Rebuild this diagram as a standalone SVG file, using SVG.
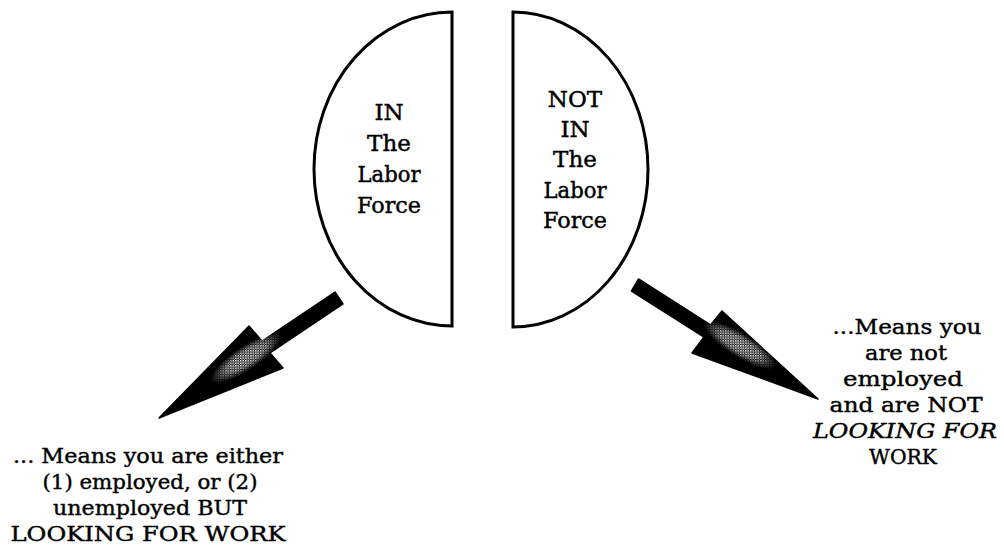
<svg xmlns="http://www.w3.org/2000/svg" width="1004" height="553" viewBox="0 0 1004 553">
<style>
.half{fill:#fff;stroke:#000;stroke-width:3;stroke-linejoin:miter}
.lbl{font-family:"DejaVu Serif","Liberation Serif",serif;font-size:23px;fill:#000;stroke:#000;stroke-width:0.45;text-anchor:middle}
.txt{font-family:"DejaVu Serif","Liberation Serif",serif;font-size:20px;fill:#000;stroke:#000;stroke-width:0.4;text-anchor:middle}
.it{font-style:italic}
.arrow{fill:#000;stroke:#000;stroke-width:1.5;stroke-linejoin:round}
</style>
<defs>
<pattern id="dots" width="2.5" height="2.5" patternUnits="userSpaceOnUse">
<rect x="0" y="0" width="1.5" height="1.5" fill="#fff"/>
<rect x="1.3" y="1.3" width="1" height="1" fill="#eee"/>
</pattern>
<radialGradient id="fade" cx="0.5" cy="0.5" r="0.5">
<stop offset="0" stop-color="#fff" stop-opacity="1"/>
<stop offset="0.55" stop-color="#fff" stop-opacity="0.85"/>
<stop offset="1" stop-color="#fff" stop-opacity="0"/>
</radialGradient>
<mask id="m1" maskUnits="userSpaceOnUse" x="0" y="0" width="1004" height="553">
<ellipse cx="246" cy="358" rx="42" ry="12" fill="url(#fade)" transform="rotate(-33.7 246 358)"/>
</mask>
<mask id="m2" maskUnits="userSpaceOnUse" x="0" y="0" width="1004" height="553">
<ellipse cx="740" cy="345" rx="42" ry="12" fill="url(#fade)" transform="rotate(31.8 740 345)"/>
</mask>
</defs>
<g id="node-in">
<path class="half" d="M452,12 A138,157 0 0 0 452,326 Z"/>
<text class="lbl" x="389" y="120">IN</text>
<text class="lbl" x="389" y="151">The</text>
<text class="lbl" x="389" y="182" textLength="63" lengthAdjust="spacingAndGlyphs">Labor</text>
<text class="lbl" x="389" y="213" textLength="64" lengthAdjust="spacingAndGlyphs">Force</text>
</g>
<g id="node-notin">
<path class="half" d="M513,12 A135,157.5 0 0 1 513,327 Z"/>
<text class="lbl" x="575" y="107">NOT</text>
<text class="lbl" x="575" y="137">IN</text>
<text class="lbl" x="575" y="167">The</text>
<text class="lbl" x="575" y="198" textLength="63" lengthAdjust="spacingAndGlyphs">Labor</text>
<text class="lbl" x="575" y="228" textLength="64" lengthAdjust="spacingAndGlyphs">Force</text>
</g>
<g id="connectors">
<polygon class="arrow" points="335,292 262,341 249,326 159,418 283,368 270,353 343,304"/>
<rect x="190" y="315" width="115" height="85" fill="url(#dots)" mask="url(#m1)"/>
<polygon class="arrow" points="638.5,279 710.5,325 722,311 818,399 692,353 704,337 631.5,291"/>
<rect x="690" y="305" width="115" height="85" fill="url(#dots)" mask="url(#m2)"/>
</g>
<g id="node-in-text">
<text class="txt" x="148" y="463" textLength="270" lengthAdjust="spacingAndGlyphs">... Means you are either</text>
<text class="txt" x="150" y="489" textLength="215" lengthAdjust="spacingAndGlyphs">(1) employed, or (2)</text>
<text class="txt" x="150" y="515" textLength="194" lengthAdjust="spacingAndGlyphs">unemployed BUT</text>
<text class="txt" x="148" y="541" textLength="275" lengthAdjust="spacingAndGlyphs">LOOKING FOR WORK</text>
</g>
<g id="node-notin-text">
<text class="txt" x="907" y="334" textLength="149" lengthAdjust="spacingAndGlyphs">...Means you</text>
<text class="txt" x="906" y="360" textLength="82" lengthAdjust="spacingAndGlyphs">are not</text>
<text class="txt" x="903" y="386" textLength="120" lengthAdjust="spacingAndGlyphs">employed</text>
<text class="txt" x="906" y="412" textLength="153" lengthAdjust="spacingAndGlyphs">and are NOT</text>
<text class="txt it" x="905" y="438" textLength="184" lengthAdjust="spacingAndGlyphs">LOOKING FOR</text>
<text class="txt" x="903" y="464" textLength="68" lengthAdjust="spacingAndGlyphs">WORK</text>
</g>
</svg>
